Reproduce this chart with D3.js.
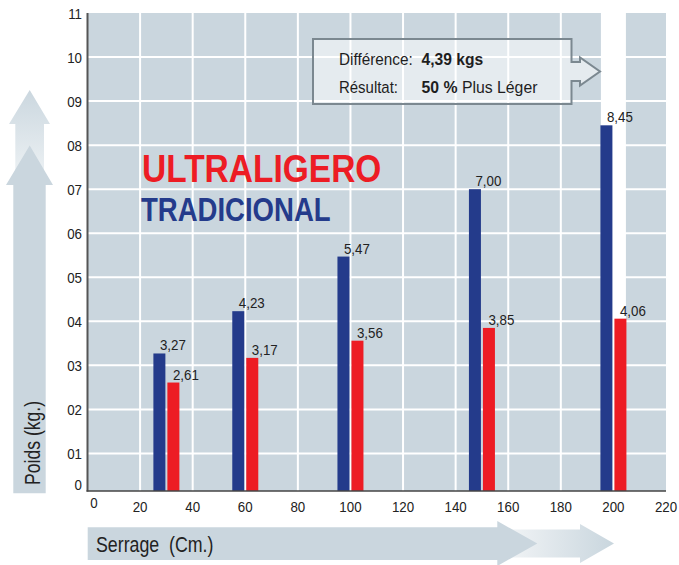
<!DOCTYPE html>
<html>
<head>
<meta charset="utf-8">
<script src="https://cdn.jsdelivr.net/npm/d3@7/dist/d3.min.js"></script>
<style>
  html, body { margin: 0; padding: 0; background: #fff; }
  svg { display: block; }
  text { font-family: "Liberation Sans", Arial, sans-serif; }
</style>
</head>
<body>
<svg id="chart" width="679" height="565"></svg>
<script>
// Serrage (cm) for each pair of bars
const serrage = [30, 60, 100, 150, 200];
// Weight of the traditional model (kg)
const tradicional = [3.27, 4.23, 5.47, 7.00, 8.45];
// Weight of the ultra-light model (kg)
const ultraligero = [2.61, 3.17, 3.56, 3.85, 4.06];
// Axis ticks
const xTicks = [0, 20, 40, 60, 80, 100, 120, 140, 160, 180, 200, 220];
const yTicks = [1, 2, 3, 4, 5, 6, 7, 8, 9, 10, 11];
const yTickLabels = ["01", "02", "03", "04", "05", "06", "07", "08", "09", "10", "11"];
// Highlighted serrage column
const highlight = 200;

const BLUE = "#243B8B", RED = "#ED1C24", PLOT_BG = "#CAD6DE", INK = "#222";

const svg = d3.select("#chart");
const plotL = 87.5, plotR = 666, plotT = 13, axisY = 491;

const x = d3.scaleLinear().domain([0, 220]).range([plotL, plotR]);
const y = d3.scaleLinear().domain([0, 11]).range([497.5, plotT]);

// Condensed text: a regular face squeezed horizontally around its anchor point
function ctext(parent, px, py, size, sx, str, extra = "") {
  return parent.append("text")
    .attr("transform", `translate(${px},${py}) ${extra} scale(${sx},1)`)
    .attr("font-size", size)
    .text(str);
}

const defs = svg.append("defs");
const gUp = defs.append("linearGradient").attr("id", "fadeUp")
  .attr("x1", 0).attr("y1", 0).attr("x2", 0).attr("y2", 1);
gUp.append("stop").attr("offset", "0%").attr("stop-color", "#CBD7DF");
gUp.append("stop").attr("offset", "100%").attr("stop-color", "#F0F4F6");
const gRight = defs.append("linearGradient").attr("id", "fadeRight")
  .attr("x1", 0).attr("y1", 0).attr("x2", 1).attr("y2", 0);
gRight.append("stop").attr("offset", "0%").attr("stop-color", "#F0F3F5");
gRight.append("stop").attr("offset", "100%").attr("stop-color", "#C9D6DE");

// Plot background
svg.append("rect").attr("x", plotL).attr("y", plotT)
  .attr("width", plotR - plotL).attr("height", axisY - plotT).attr("fill", PLOT_BG);

// Highlighted column behind the 200 cm bars
svg.append("rect").attr("x", x(highlight) - 12.5).attr("y", plotT)
  .attr("width", 25).attr("height", axisY - plotT).attr("fill", "#fff");

// Grid
svg.append("g").selectAll("line").data(xTicks.filter(d => d > 0 && d < 220)).join("line")
  .attr("x1", d => x(d)).attr("x2", d => x(d)).attr("y1", plotT).attr("y2", axisY)
  .attr("stroke", "#fff").attr("stroke-width", 2);
svg.append("g").selectAll("line").data(yTicks.filter(d => d < 11)).join("line")
  .attr("x1", plotL).attr("x2", plotR).attr("y1", d => y(d)).attr("y2", d => y(d))
  .attr("stroke", "#fff").attr("stroke-width", 2);

// Bars
const bars = svg.append("g");
bars.selectAll("rect.trad").data(serrage).join("rect").attr("class", "trad")
  .attr("x", d => x(d) - 13).attr("width", 12)
  .attr("y", (d, i) => y(tradicional[i])).attr("height", (d, i) => axisY - y(tradicional[i]))
  .attr("fill", BLUE);
bars.selectAll("rect.ultra").data(serrage).join("rect").attr("class", "ultra")
  .attr("x", d => x(d) + 1).attr("width", 12)
  .attr("y", (d, i) => y(ultraligero[i])).attr("height", (d, i) => axisY - y(ultraligero[i]))
  .attr("fill", RED);

// Value labels
const fmt = v => v.toFixed(2).replace(".", ",");
const labels = svg.append("g").attr("fill", INK);
serrage.forEach((s, i) => {
  ctext(labels, x(s) - 6.5, y(tradicional[i]) - 3, 14.5, 0.92, fmt(tradicional[i]));
  ctext(labels, x(s) + 6.5, y(ultraligero[i]) - 3, 14.5, 0.92, fmt(ultraligero[i]));
});

// Axis lines
svg.append("line").attr("x1", plotL).attr("x2", plotL).attr("y1", plotT).attr("y2", axisY + 0.5)
  .attr("stroke", "#555").attr("stroke-width", 2);
svg.append("line").attr("x1", plotL - 1).attr("x2", plotR).attr("y1", axisY).attr("y2", axisY)
  .attr("stroke", "#444").attr("stroke-width", 1.5);

// Y tick labels
const yl = svg.append("g").attr("fill", INK).attr("text-anchor", "end");
yTicks.forEach((t, i) => ctext(yl, 82, y(t) + 5.5, 15.5, 0.86, yTickLabels[i]));
ctext(yl, 82, axisY - 1.5, 15.5, 0.86, "0");

// X tick labels
const xl = svg.append("g").attr("fill", INK).attr("text-anchor", "middle");
xTicks.forEach(t => ctext(xl, t === 0 ? x(t) + 6.5 : x(t), t === 0 ? 508 : 511.5, 15.5, 0.86, String(t)));

// Series titles
const titles = svg.append("g").attr("font-weight", "bold");
ctext(titles, 142, 181.5, 38.5, 0.87, "ULTRALIGERO").attr("fill", RED);
ctext(titles, 141, 221, 34, 0.81, "TRADICIONAL").attr("fill", BLUE);

// Callout box with arrow
svg.append("path")
  .attr("d", "M313,39 H571.5 V62 H580 V57.5 L600,71.5 L580,85.5 V81 H571.5 V104 H313 Z")
  .attr("fill", "#fff").attr("fill-opacity", 0.5)
  .attr("stroke", "#7B8890").attr("stroke-width", 2);
const box = svg.append("g").attr("fill", "#1e1e1e");
ctext(box, 339, 65, 17, 0.9, "Différence:");
ctext(box, 421.5, 65, 17, 0.92, "4,39 kgs").attr("font-weight", "bold");
ctext(box, 339, 93, 17, 0.88, "Résultat:");
const r2 = ctext(box, 421.5, 93, 17, 0.93, "");
r2.append("tspan").attr("font-weight", "bold").text("50 %");
r2.append("tspan").text(" Plus Léger");

// Y axis title with up arrows
svg.append("path").attr("d", "M15.3,185 V124 H9 L29.7,90 L50,124 H44 V185 Z").attr("fill", "url(#fadeUp)");
svg.append("path").attr("d", "M13.3,493.3 V185 H6 L29.7,145.5 L53,185 H45.7 V493.3 Z").attr("fill", PLOT_BG);
ctext(svg, 39.5, 485, 22, 0.8, "Poids (kg.)", "rotate(-90)").attr("fill", "#222");

// X axis title with right arrows
svg.append("path").attr("d", "M510,529.5 H580 V524 L614,543.5 L580,563 V557.5 H510 Z").attr("fill", "url(#fadeRight)");
svg.append("path").attr("d", "M87.7,527.3 H497.3 V521 L537.3,543.5 L497.3,566 V560 H87.7 Z").attr("fill", PLOT_BG);
ctext(svg, 96, 551.5, 22.5, 0.79, "Serrage\u00A0\u00A0(Cm.)").attr("fill", "#222");
</script>
</body>
</html>
